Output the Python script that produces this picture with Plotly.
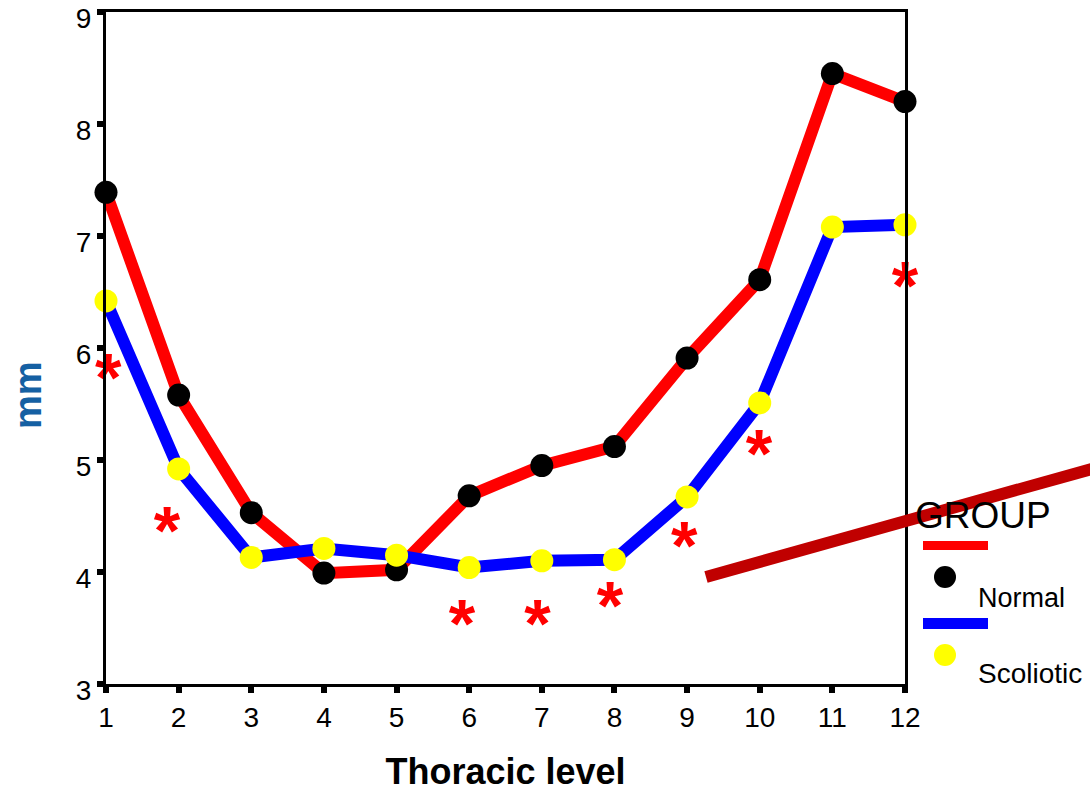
import plotly.graph_objects as go

# Thoracic levels and group means (mm)
levels = [1, 2, 3, 4, 5, 6, 7, 8, 9, 10, 11, 12]
normal = [7.39, 5.58, 4.53, 3.99, 4.02, 4.68, 4.95, 5.12, 5.91, 6.61, 8.45, 8.20]
scoliotic = [6.42, 4.92, 4.13, 4.21, 4.15, 4.04, 4.10, 4.11, 4.67, 5.51, 7.08, 7.10]

# Significance markers
star_x = [1.03, 1.84, 5.90, 6.94, 7.94, 8.96, 9.99, 12.0]
star_y = [5.68, 4.31, 3.48, 3.48, 3.64, 4.18, 5.00, 6.50]

y_ticks = [3, 4, 5, 6, 7, 8, 9]

W, H = 1090, 792
L, R, T, B = 106, 185, 12, 108
PW, PH = W - L - R, H - T - B


def px(x):
    return (x - L) / PW


def py(y):
    return (H - B - y) / PH


fig = go.Figure()

fig.add_trace(go.Scatter(
    x=levels, y=normal, mode="lines+markers", name="Normal",
    line=dict(color="#FF0000", width=12),
    marker=dict(color="#000000", size=23),
    cliponaxis=False, showlegend=False,
))
fig.add_trace(go.Scatter(
    x=levels, y=scoliotic, mode="lines+markers", name="Scoliotic",
    line=dict(color="#0000FF", width=12),
    marker=dict(color="#FFFF00", size=23),
    cliponaxis=False, showlegend=False,
))
fig.add_trace(go.Scatter(
    x=star_x, y=star_y, mode="text", text=["<b>*</b>"] * len(star_x),
    textfont=dict(family="Arial, Liberation Sans", size=68, color="#FF0000"),
    cliponaxis=False, showlegend=False,
))

shapes = []
# stray diagonal stroke
shapes.append(dict(type="line", xref="paper", yref="paper",
                   x0=px(706), y0=py(577), x1=px(1095), y1=py(468),
                   line=dict(color="#C00000", width=12), layer="above"))
# legend swatches
shapes.append(dict(type="rect", xref="paper", yref="paper",
                   x0=px(923), x1=px(988), y0=py(550), y1=py(541),
                   fillcolor="#FF0000", line=dict(width=0)))
shapes.append(dict(type="rect", xref="paper", yref="paper",
                   x0=px(923), x1=px(988), y0=py(629), y1=py(618),
                   fillcolor="#0000FF", line=dict(width=0)))
shapes.append(dict(type="circle", xref="paper", yref="paper",
                   x0=px(934), x1=px(956), y0=py(588), y1=py(566),
                   fillcolor="#000000", line=dict(width=0)))
shapes.append(dict(type="circle", xref="paper", yref="paper",
                   x0=px(934), x1=px(956), y0=py(666), y1=py(644),
                   fillcolor="#FFFF00", line=dict(width=0)))

font = "Arial, Liberation Sans, sans-serif"
annotations = [
    dict(text="GROUP", xref="paper", yref="paper", x=px(913), y=py(515),
         xanchor="left", yanchor="middle", showarrow=False,
         font=dict(family=font, size=37, color="#000000")),
    dict(text="Normal", xref="paper", yref="paper", x=px(976), y=py(598),
         xanchor="left", yanchor="middle", showarrow=False,
         font=dict(family=font, size=27, color="#000000")),
    dict(text="Scoliotic", xref="paper", yref="paper", x=px(976), y=py(673),
         xanchor="left", yanchor="middle", showarrow=False,
         font=dict(family=font, size=28, color="#000000")),
    dict(text="<b>mm</b>", xref="paper", yref="paper", x=px(28), y=py(395),
         xanchor="center", yanchor="middle", showarrow=False, textangle=-90,
         font=dict(family=font, size=38, color="#1560A3")),
]

fig.update_layout(
    width=W, height=H,
    margin=dict(l=L, r=R, t=T, b=B, autoexpand=False),
    paper_bgcolor="#FFFFFF", plot_bgcolor="#FFFFFF",
    shapes=shapes, annotations=annotations,
    font=dict(family=font, color="#000000"),
)

fig.update_xaxes(
    range=[1, 12], tickvals=levels, ticktext=[str(v) for v in levels],
    showgrid=False, zeroline=False, automargin=False,
    showline=True, linecolor="#000000", linewidth=3, mirror=True,
    ticks="outside", ticklen=6, tickwidth=6, tickcolor="#000000",
    ticklabeloverflow="allow",
    tickfont=dict(family=font, size=28, color="#000000"),
    title=dict(text="<b>Thoracic level</b>", standoff=40,
               font=dict(family=font, size=36, color="#000000")),
)
fig.update_yaxes(
    range=[3, 9], tickvals=y_ticks,
    showgrid=False, zeroline=False, automargin=False,
    showline=True, linecolor="#000000", linewidth=3, mirror=True,
    ticks="outside", ticklen=6, tickwidth=6, tickcolor="#000000",
    ticklabeloverflow="allow", ticklabelshift=6,
    tickfont=dict(family=font, size=28, color="#000000"),
)

fig.write_html("out.html")
